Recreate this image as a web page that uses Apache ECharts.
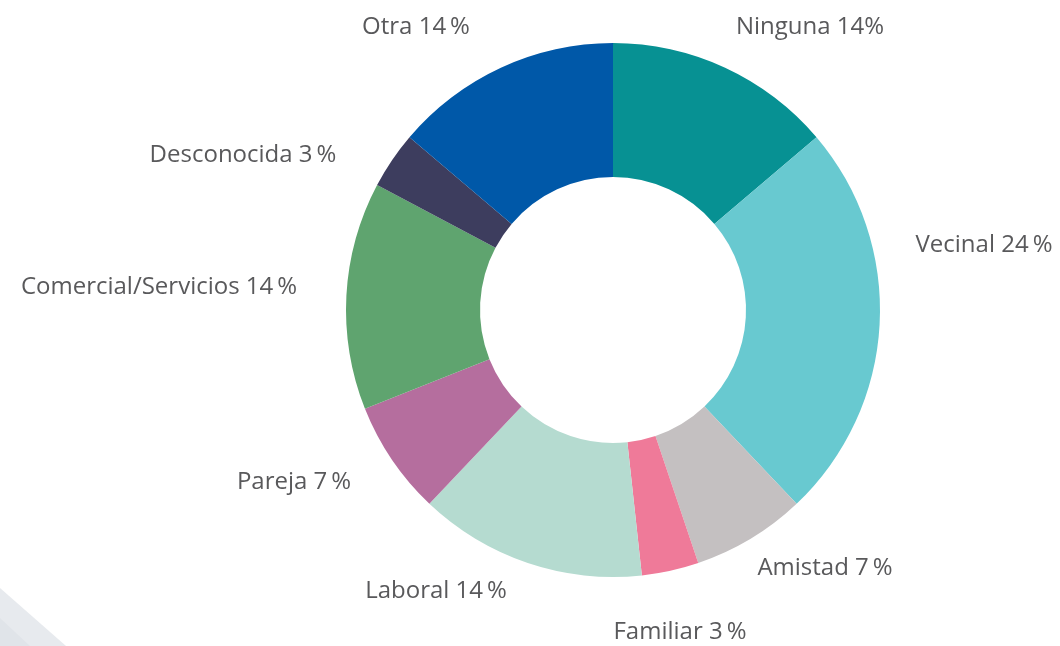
<!DOCTYPE html>
<html>
<head>
<meta charset="utf-8">
<script src="https://cdn.jsdelivr.net/npm/echarts@6/dist/echarts.min.js"></script>
<style>
  html, body { margin: 0; padding: 0; background: #fff; }
  #chart { width: 1060px; height: 646px; }
</style>
</head>
<body>
<div id="chart"></div>
<script>
// categories, clockwise from the top
const categories = ['Ninguna', 'Vecinal', 'Amistad', 'Familiar', 'Laboral', 'Pareja', 'Comercial/Servicios', 'Desconocida', 'Otra']
// case counts (29 in total)
const counts = [4, 7, 2, 1, 4, 2, 4, 1, 4]
const colors = ['#079193', '#68c9d0', '#c4c0c1', '#ef7a99', '#b5dbd0', '#b56e9e', '#5fa46f', '#3d3d5e', '#0058a8']

// where each label sits (center of text), the original puts them by hand
const labelSpots = [
  [810, 27], [984, 245], [825, 568], [680, 632], [436, 591],
  [294, 482], [159, 287], [243, 155], [416, 27]
]

const chart = echarts.init(document.getElementById('chart'))

chart.setOption({
  backgroundColor: '#fff',
  animation: false,
  graphic: [
    {
      type: 'polygon',
      shape: { points: [[0, 588], [66, 646], [0, 646]] },
      style: { fill: '#e7eaee' },
      silent: true
    },
    {
      type: 'polygon',
      shape: { points: [[0, 618], [30, 646], [0, 646]] },
      style: { fill: '#e0e4e9' },
      silent: true
    }
  ],
  series: [
    {
      type: 'pie',
      center: [613, 310],
      radius: [133, 267],
      startAngle: 90,
      clockwise: true,
      percentPrecision: 0,
      color: colors,
      itemStyle: { borderWidth: 0 },
      label: {
        show: true,
        position: 'outside',
        fontFamily: 'Open Sans',
        fontSize: 24,
        color: '#59595b',
        overflow: 'none',
        formatter: (p) => p.name + ' ' + p.percent + (p.name === 'Ninguna' ? '%' : '\u2009%')
      },
      labelLine: { show: false },
      labelLayout: (params) => {
        const spot = labelSpots[params.dataIndex]
        return { x: spot[0], y: spot[1], align: 'center', verticalAlign: 'middle' }
      },
      emphasis: { disabled: true },
      data: categories.map((name, i) => ({ name, value: counts[i] }))
    }
  ]
})
</script>
</body>
</html>
